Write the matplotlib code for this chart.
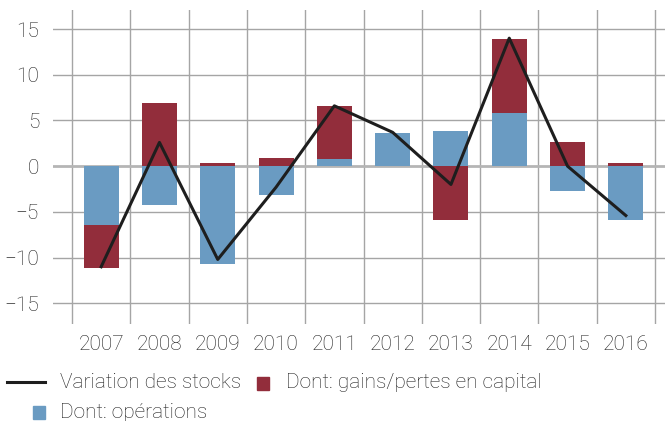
import numpy as np
import matplotlib.pyplot as plt
from matplotlib.lines import Line2D
from matplotlib.patches import Rectangle

# %%
years = ['2007', '2008', '2009', '2010', '2011', '2012', '2013', '2014', '2015', '2016']
operations = [-6.4, -4.3, -10.7, -3.2, 0.8, 3.6, 3.9, 5.8, -2.7, -5.9]
gains_pertes = [-4.7, 6.9, 0.4, 0.9, 5.8, 0.0, -5.9, 8.1, 2.6, 0.3]
variation = [-11.0, 2.6, -10.2, -2.3, 6.6, 3.7, -2.0, 14.0, 0.0, -5.4]

blue = '#6a9bc2'
red = '#922d3b'
txt = '#1f1f1f'
grid_c = '#a5a5a5'

plt.rcParams['font.family'] = ['Roboto', 'DejaVu Sans']
plt.rcParams['font.weight'] = 'light'

# %%
fig = plt.figure(figsize=(6.65, 4.21), dpi=100)
W, H = 665, 421
ax = fig.add_axes([53 / W, 1 - 324 / H, (665 - 53) / W, (324 - 10) / H])

x = np.arange(len(years))
ops = np.array(operations)
gp = np.array(gains_pertes)
# stack the capital part on top of the operations part (same sign), else from zero
gp_base = np.where(np.sign(gp) == np.sign(ops), ops, 0.0)

ax.bar(x, ops, width=0.6, color=blue, zorder=2)
ax.bar(x, gp, bottom=gp_base, width=0.6, color=red, zorder=2)
ax.plot(x, variation, color='#1e1e1e', lw=2.2, zorder=3)

ax.set_xlim(-0.5 - 19 / 58.3, 9.5 + 10 / 58.3)
ax.set_ylim(-17.26, 17.08)
ax.set_yticks([-15, -10, -5, 0, 5, 10, 15])
ax.set_xticks(x)
ax.set_xticklabels(years)

for v in np.arange(-0.5, 10, 1.0):
    ax.axvline(v, color=grid_c, lw=1, zorder=1)
for v in [-15, -10, -5, 5, 10, 15]:
    ax.axhline(v, color=grid_c, lw=1, zorder=1)
ax.axhline(0, color='#b5b5b5', lw=2, zorder=1)

for s in ax.spines.values():
    s.set_visible(False)
ax.tick_params(length=0, labelsize=15, colors=txt)
ax.tick_params(axis='y', pad=10)
ax.tick_params(axis='x', pad=8)

# %% legend
fig.add_artist(Line2D([7 / W, 45 / W], [1 - 382 / H] * 2, color='#1e1e1e', lw=2.2))
fig.text(60 / W, 1 - 383 / H, 'Variation des stocks', fontsize=15, color=txt, va='center')
fig.add_artist(Rectangle((257 / W, 1 - 390 / H), 12 / W, 13 / H, color=red))
fig.text(286 / W, 1 - 383 / H, 'Dont: gains/pertes en capital', fontsize=15, color=txt, va='center')
fig.add_artist(Rectangle((33 / W, 1 - 419 / H), 12 / W, 13 / H, color=blue))
fig.text(60 / W, 1 - 412 / H, 'Dont: opérations', fontsize=15, color=txt, va='center')

fig.savefig('out.png', dpi=100)
